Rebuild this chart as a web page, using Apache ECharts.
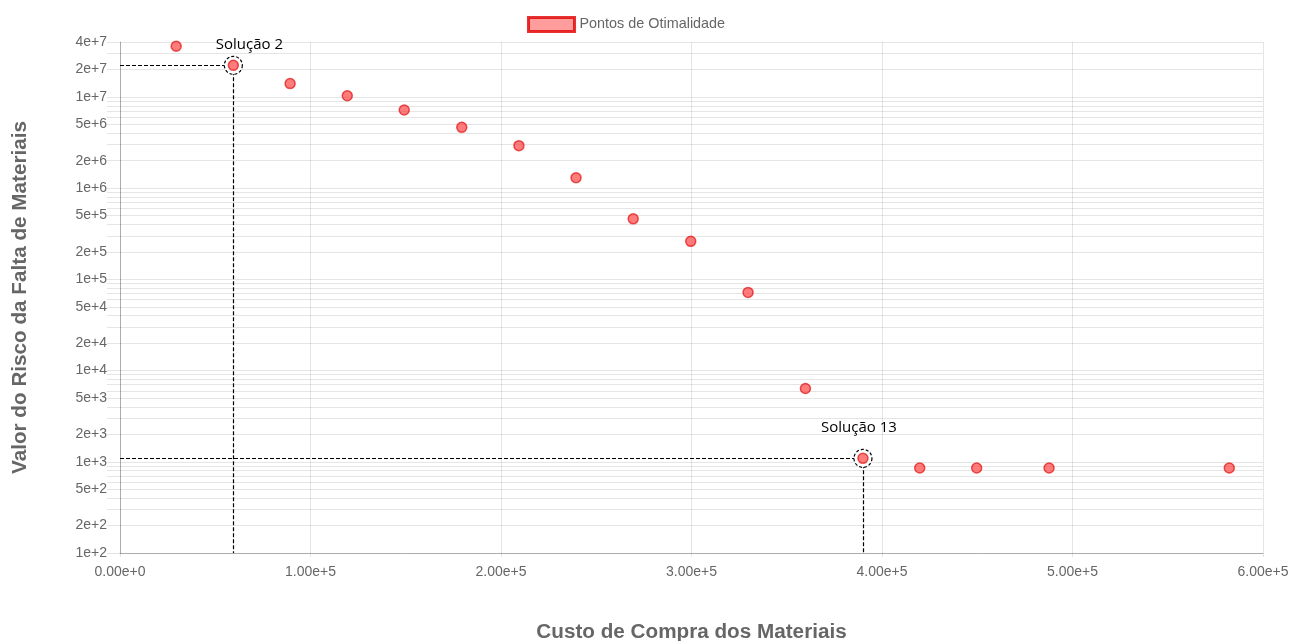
<!DOCTYPE html>
<html>
<head>
<meta charset="utf-8">
<script src="https://cdn.jsdelivr.net/npm/echarts@6/dist/echarts.min.js"></script>
<style>
html,body{margin:0;padding:0;background:#fff;}
#chart{width:1290px;height:641px;}
</style>
</head>
<body>
<div id="chart"></div>
<script>
// ---- data ----
const seriesName = 'Pontos de Otimalidade';
const custo = [29500, 59500, 89300, 119300, 149200, 179400, 209400, 239400, 269400, 299600, 329700, 359800, 390000, 419800, 449700, 487700, 582300];
const risco = [35900000, 22200000, 14000000, 10300000, 7180000, 4640000, 2920000, 1300000, 461000, 261000, 71900, 6360, 1090, 855, 855, 855, 855];
const highlightIdx = [1, 12];
const highlightNames = ['Solução 2', 'Solução 13'];
const yGrid = [100,200,300,400,500,600,700,800,900,1e3,2e3,3e3,4e3,5e3,6e3,7e3,8e3,9e3,1e4,2e4,3e4,4e4,5e4,6e4,7e4,8e4,9e4,1e5,2e5,3e5,4e5,5e5,6e5,7e5,8e5,9e5,1e6,2e6,3e6,4e6,5e6,6e6,7e6,8e6,9e6,1e7,2e7,3e7,4e7];
const yLabelValues = [100,200,500,1e3,2e3,5e3,1e4,2e4,5e4,1e5,2e5,5e5,1e6,2e6,5e6,1e7,2e7,4e7];
const xMin = 0, xMax = 600000, xStep = 100000;
const yMin = 100, yMax = 40000000;

function fmtY(v){
  const e = Math.floor(Math.log10(v) + 1e-9);
  const m = Math.round(v / Math.pow(10, e));
  return m + 'e+' + e;
}

const points = custo.map(function(x, i){ return [x, risco[i]]; });
const hlPoints = highlightIdx.map(function(i){ return [custo[i], risco[i]]; });
const labelOffsets = [[16, -21], [-4, -31]];

const chart = echarts.init(document.getElementById('chart'));
const gridColor = 'rgba(0,0,0,0.1)';
chart.setOption({
  animation: false,
  textStyle: { fontFamily: 'Liberation Sans, Arial, sans-serif' },
  legend: {
    top: 11, left: 522,
    itemWidth: 46, itemHeight: 14, itemGap: 8,
    icon: 'rect',
    textStyle: { color: '#666', fontSize: 14.4 },
    data: [{ name: seriesName, itemStyle: { color: 'rgba(255,90,90,0.75)', borderColor: '#e00000', borderWidth: 3 } }]
  },
  grid: { left: 120, right: 27, top: 42, bottom: 88, outerBoundsMode: 'none', containLabel: false },
  xAxis: {
    type: 'value', min: xMin, max: xMax, interval: xStep,
    name: 'Custo de Compra dos Materiais', nameLocation: 'middle', nameGap: 69,
    nameTextStyle: { color: '#666', fontSize: 20.7, fontWeight: 'bold' },
    axisLine: { show: true, lineStyle: { color: 'rgba(0,0,0,0.25)' } },
    axisTick: { show: true, length: 4, lineStyle: { color: gridColor } },
    axisLabel: { color: '#666', fontSize: 14, margin: 12, formatter: function(v){ return v.toExponential(2); } },
    splitLine: { show: true, lineStyle: { color: gridColor } }
  },
  yAxis: {
    type: 'log', logBase: 10, min: yMin, max: yMax,
    name: 'Valor do Risco da Falta de Materiais', nameLocation: 'middle', nameGap: 89, nameRotate: 90,
    nameTextStyle: { color: '#666', fontSize: 20.7, fontWeight: 'bold' },
    axisLine: { show: true, lineStyle: { color: 'rgba(0,0,0,0.25)' } },
    axisTick: { show: true, length: 13, lineStyle: { color: gridColor }, customValues: yGrid },
    axisLabel: { color: '#666', fontSize: 14, margin: 13, customValues: yLabelValues, formatter: fmtY, showMinLabel: true, showMaxLabel: true },
    splitLine: { show: true, lineStyle: { color: gridColor } }
  },
  series: [
    {
      name: seriesName, type: 'scatter', z: 10,
      symbol: 'circle', symbolSize: 10,
      itemStyle: { color: 'rgba(255,45,45,0.78)', borderColor: 'rgba(220,0,0,0.8)', borderWidth: 1.5 },
      data: points
    },
    {
      name: 'annotations', type: 'scatter', z: 1, data: [], silent: true,
      markLine: {
        z: 3, silent: true, symbol: ['none', 'none'],
        lineStyle: { color: '#000', type: [4, 2], width: 1.2 },
        label: { show: false },
        data: hlPoints.reduce(function(acc, p){
          acc.push([{ coord: [xMin, p[1]] }, { coord: [p[0], p[1]] }]);
          acc.push([{ coord: [p[0], p[1]] }, { coord: [p[0], yMin] }]);
          return acc;
        }, [])
      },
      markPoint: {
        z: 4, silent: true, symbol: 'circle', symbolSize: 18,
        itemStyle: { color: '#fff', borderColor: '#000', borderWidth: 1.2, borderType: [3, 2] },
        data: hlPoints.map(function(p, i){
          return {
            coord: p, name: highlightNames[i],
            label: { show: true, position: 'inside', offset: labelOffsets[i], formatter: highlightNames[i],
                     color: '#000', fontSize: 15, fontFamily: 'Open Sans' }
          };
        })
      }
    }
  ]
});
</script>
</body>
</html>
